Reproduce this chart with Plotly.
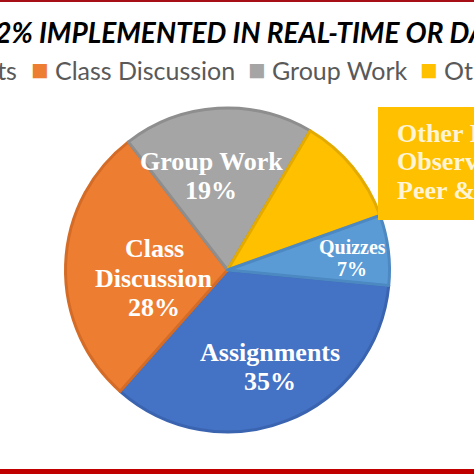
import plotly.graph_objects as go

labels = ['Assignments', 'Class Discussion', 'Group Work', 'Other Methods', 'Quizzes']
values = [35, 28, 19, 11, 7]
label_lines = [['Assignments'], ['Class', 'Discussion'], ['Group Work'], [], ['Quizzes']]
colors = ['#4472C4', '#ED7D31', '#A5A5A5', '#FFC000', '#5B9BD5']
edge_colors = ['#3A64B0', '#D46C27', '#8E8E8E', '#E3AA00', '#4C88C2']
title_text = '72% IMPLEMENTED IN REAL-TIME OR DAILY'
callout_lines = ['Other Instructor', 'Observation,', 'Peer & Self']

W = 474.0

def px(x):
    return x / W

def py(y):
    return 1 - y / W

fig = go.Figure()
fig.add_trace(go.Pie(
    labels=labels, values=values, textinfo='none',
    sort=False, direction='clockwise', rotation=95.5,
    marker=dict(colors=colors, line=dict(color=edge_colors, width=3)),
    domain=dict(x=[px(65), px(390)], y=[py(432), py(108)]),
    showlegend=False, hoverinfo='label+percent'
))

# slice labels: (centre x, centre y, font size) in pixels, one per slice
label_pos = [(270, 367, 26), (154, 278, 26), (211, 176, 26), None, (352, 258, 20)]
for lines, v, pos in zip(label_lines, values, label_pos):
    if pos is None:
        continue
    cx, cy, fs = pos
    rows = lines + ['%d%%' % v]
    step = fs * 1.12
    top = cy - step * (len(rows) - 1) / 2
    for i, row in enumerate(rows):
        fig.add_annotation(x=px(cx), y=py(top + i * step), xref='paper', yref='paper',
                           xanchor='center', yanchor='middle',
                           text='<b>' + row + '</b>', showarrow=False,
                           font=dict(family='Liberation Serif', size=fs, color='white'))

# title (cropped in the source image)
fig.add_annotation(x=px(-23), y=py(32), xref='paper', yref='paper', xanchor='left', yanchor='middle',
                   text='<b><i>' + title_text + '</i></b>', showarrow=False,
                   font=dict(family='Lato', size=28, color='black'))

# legend row built from labels/colors
def item(c, l):
    return '<span style="color:%s;font-size:29px">■</span> %s' % (c, l)

first = item(colors[0], labels[0])
rest = '  '.join(item(c, l) for c, l in zip(colors[1:], labels[1:]))
fig.add_annotation(x=px(19), y=py(68), xref='paper', yref='paper', xanchor='right', yanchor='middle',
                   text=first, showarrow=False, font=dict(family='Lato', size=25, color='#595959'))
fig.add_annotation(x=px(29), y=py(68), xref='paper', yref='paper', xanchor='left', yanchor='middle',
                   text=rest, showarrow=False, font=dict(family='Lato', size=25, color='#595959'))

# callout box for the "Other" slice
fig.add_shape(type='rect', xref='paper', yref='paper', x0=px(378), x1=1.05, y0=py(220), y1=py(107),
              fillcolor=colors[3], line_width=0)
for i, row in enumerate(callout_lines):
    fig.add_annotation(x=px(395), y=py(133 + i * 28.5), xref='paper', yref='paper',
                       xanchor='left', yanchor='middle', text='<b>' + row + '</b>', showarrow=False,
                       font=dict(family='Liberation Serif', size=26, color='#FFF4D6'))

# red frame lines
fig.add_shape(type='rect', xref='paper', yref='paper', x0=0, x1=1, y0=py(2), y1=1,
              fillcolor='#A50F15', line_width=0)
fig.add_shape(type='rect', xref='paper', yref='paper', x0=0, x1=1, y0=0, y1=px(5),
              fillcolor='#C00000', line_width=0)

fig.update_layout(width=474, height=474, margin=dict(l=0, r=0, t=0, b=0),
                  paper_bgcolor='white', plot_bgcolor='white')
fig.write_html("out.html", config={'displayModeBar': False},
               post_script="document.documentElement.style.overflow='hidden';"
                           "document.body.style.overflow='hidden';document.body.style.margin='0';")
